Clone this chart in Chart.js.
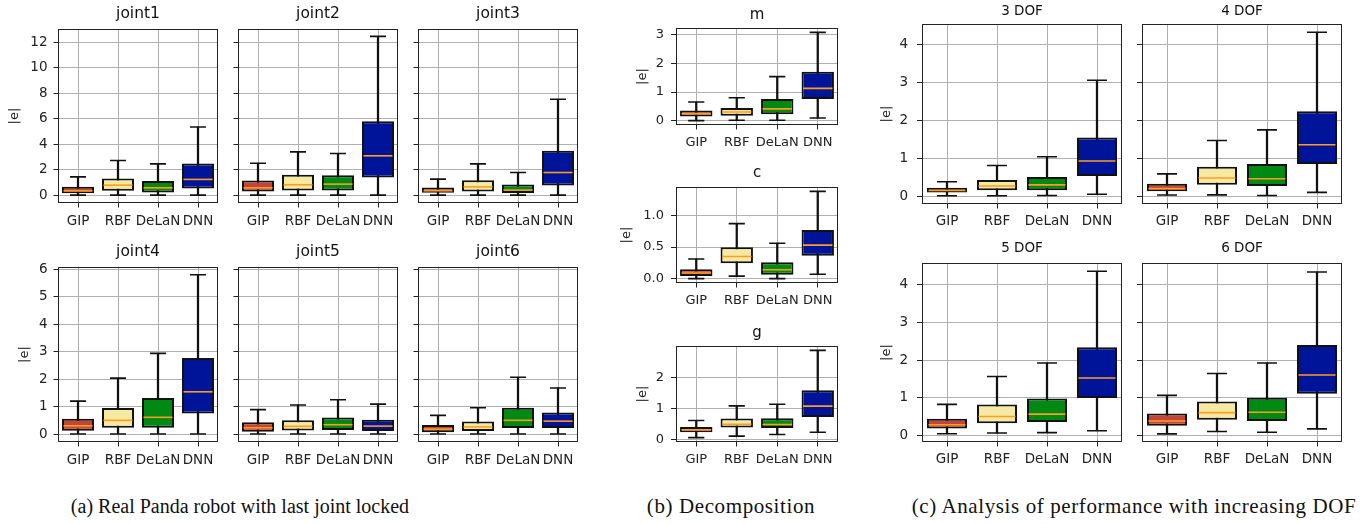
<!DOCTYPE html>
<html><head><meta charset="utf-8">
<script src="https://cdn.jsdelivr.net/npm/chart.js@4.4.1/dist/chart.umd.min.js"></script>
<style>
html,body{margin:0;padding:0;background:#fff;}
body{width:1370px;height:524px;position:relative;overflow:hidden;}
canvas{position:absolute;}
.cap{position:absolute;top:495px;font-family:"Liberation Serif","DejaVu Serif",serif;font-size:20px;color:#111;white-space:nowrap;transform:translateX(-50%);}
.cap.w{font-size:21px;letter-spacing:0.6px;top:494px;}
</style></head><body>
<div class="cap" style="left:240px">(a) Real Panda robot with last joint locked</div>
<div class="cap w" style="left:731px">(b) Decomposition</div>
<div class="cap w" style="left:1134px">(c) Analysis of performance with increasing DOF</div>
<canvas id="j1"></canvas><canvas id="j2"></canvas><canvas id="j3"></canvas>
<canvas id="j4"></canvas><canvas id="j5"></canvas><canvas id="j6"></canvas>
<canvas id="bm"></canvas><canvas id="bc"></canvas><canvas id="bg"></canvas>
<canvas id="d3"></canvas><canvas id="d4"></canvas><canvas id="d5"></canvas><canvas id="d6"></canvas>
<script>
// ---------- data ----------
const categories = ['GIP', 'RBF', 'DeLaN', 'DNN'];
const boxColors = ['#c4443a', '#f6e9a2', '#008a14', '#00149a'];
// each entry: [min, q1, median, q3, max]
const joint1 = [[0,0.15,0.33,0.65,1.43],[0,0.34,0.78,1.30,2.71],[0,0.20,0.57,1.10,2.45],[0,0.52,1.23,2.48,5.34]];
const joint2 = [[0,0.29,0.57,1.15,2.50],[0,0.36,0.81,1.59,3.39],[0,0.36,0.86,1.56,3.26],[0,1.38,3.08,5.79,12.44]];
const joint3 = [[0,0.18,0.34,0.60,1.25],[0,0.29,0.65,1.17,2.45],[0,0.16,0.39,0.83,1.77],[0,0.76,1.77,3.47,7.51]];
const joint4 = [[0,0.12,0.30,0.56,1.20],[0,0.23,0.50,0.95,2.04],[0,0.23,0.61,1.31,2.94],[0,0.75,1.54,2.77,5.81]];
const joint5 = [[0,0.085,0.23,0.43,0.89],[0,0.13,0.28,0.50,1.06],[0,0.15,0.34,0.60,1.25],[0,0.11,0.29,0.52,1.09]];
const joint6 = [[0,0.07,0.18,0.33,0.68],[0,0.11,0.26,0.46,0.96],[0,0.22,0.50,0.96,2.07],[0,0.22,0.47,0.79,1.68]];
const decompM = [[0,0.14,0.24,0.35,0.65],[0.01,0.17,0.30,0.44,0.80],[0.01,0.22,0.41,0.76,1.54],[0.09,0.76,1.13,1.71,3.09]];
const decompC = [[0,0.04,0.09,0.15,0.31],[0.04,0.245,0.35,0.495,0.87],[0,0.06,0.14,0.26,0.56],[0.07,0.36,0.53,0.77,1.38]];
const decompG = [[0.06,0.235,0.31,0.40,0.61],[0.11,0.385,0.49,0.67,1.08],[0.16,0.37,0.48,0.68,1.13],[0.235,0.72,1.07,1.58,2.86]];
const dof3 = [[0.01,0.10,0.15,0.22,0.38],[0.01,0.16,0.27,0.43,0.81],[0.02,0.16,0.30,0.51,1.04],[0.05,0.53,0.93,1.55,3.06]];
const dof4 = [[0.03,0.13,0.20,0.33,0.59],[0.035,0.30,0.48,0.78,1.47],[0.02,0.27,0.46,0.85,1.75],[0.10,0.85,1.36,2.24,4.33]];
const dof5 = [[0.04,0.18,0.28,0.44,0.82],[0.06,0.32,0.50,0.82,1.56],[0.07,0.35,0.56,0.98,1.92],[0.12,0.99,1.52,2.34,4.36]];
const dof6 = [[0.035,0.25,0.38,0.58,1.06],[0.10,0.41,0.60,0.90,1.64],[0.08,0.38,0.61,1.00,1.92],[0.17,1.10,1.60,2.40,4.34]];

// ---------- tick labels ----------
const ticksJointTop = [0,2,4,6,8,10,12];
const ticksJointTopLabels = ['0','2','4','6','8','10','12'];
const ticksJointBottom = [0,1,2,3,4,5,6];
const ticksJointBottomLabels = ['0','1','2','3','4','5','6'];
const ticksM = [0,1,2,3];
const ticksMLabels = ['0','1','2','3'];
const ticksC = [0,0.5,1.0];
const ticksCLabels = ['0.0','0.5','1.0'];
const ticksG = [0,1,2];
const ticksGLabels = ['0','1','2'];
const ticksDof = [0,1,2,3,4];
const ticksDofLabels = ['0','1','2','3','4'];

// ---------- drawing ----------
const FAM = '"DejaVu Sans", sans-serif';
const framePlugin = {
  id: 'frame',
  afterDatasetsDraw(chart) {
    const a = chart.chartArea, ctx = chart.ctx;
    ctx.save();
    ctx.strokeStyle = '#222';
    ctx.lineWidth = 1;
    ctx.strokeRect(Math.round(a.left) + 0.5, Math.round(a.top) + 0.5, Math.round(a.width) - 1, Math.round(a.height) - 1);
    ctx.restore();
  }
};

function boxChart(id, g) {
  const canvas = document.getElementById(id);
  const cTop = g.titleY - 10;
  const cLeft = g.showY ? g.yTitleX - 10 : g.l - 6;
  const xAxisH = 30;
  const cW = (g.r - cLeft) + 3;
  const cH = (g.b - cTop) + xAxisH;
  canvas.width = cW; canvas.height = cH;
  canvas.style.left = cLeft + 'px'; canvas.style.top = cTop + 'px';
  canvas.style.width = cW + 'px'; canvas.style.height = cH + 'px';
  const spacing = (g.r - g.l) / categories.length;
  const titleBlock = g.t - cTop;
  const tPadTop = 10 - g.titleSize * 0.6;
  const tPadBottom = titleBlock - tPadTop - g.titleSize * 1.2;
  const d = g.data;
  const caps = [];
  categories.forEach((c, i) => { caps.push({x: c, y: d[i][0]}); caps.push({x: c, y: d[i][4]}); });

  new Chart(canvas, {
    data: {
      labels: categories,
      datasets: [
        {type: 'line', label: 'median', data: categories.map((c, i) => ({x: c, y: d[i][2]})),
         showLine: false, pointStyle: 'line', pointRadius: spacing * 0.4 - 1.5,
         pointBorderColor: '#ff9d1e', pointBorderWidth: 1.6, order: 0},
        {type: 'bar', label: 'box', data: d.map(v => [v[1], v[3]]),
         backgroundColor: boxColors, borderColor: '#111', borderWidth: 2, borderSkipped: false,
         barPercentage: 0.8, categoryPercentage: 1, grouped: false, order: 1},
        {type: 'line', label: 'caps', data: caps, showLine: false, pointStyle: 'line',
         pointRadius: spacing * 0.2, pointBorderColor: '#111', pointBorderWidth: 1.6, order: 2},
        {type: 'bar', label: 'whisker', data: d.map(v => [v[0], v[4]]),
         backgroundColor: '#111', borderWidth: 0, barThickness: 1.6, grouped: false, order: 3}
      ]
    },
    options: {
      responsive: false, animation: false, devicePixelRatio: 1, events: [],
      layout: {autoPadding: false, padding: {left: 0, right: 3, top: 0, bottom: 0}},
      plugins: {
        legend: {display: false}, tooltip: {enabled: false},
        title: {display: true, text: g.title, color: '#111', fullSize: false,
                font: {family: FAM, size: g.titleSize, weight: 'normal'},
                padding: {top: tPadTop, bottom: tPadBottom}}
      },
      scales: {
        x: {
          type: 'category', offset: true,
          grid: {offset: false, color: '#b0b0b0', lineWidth: 1, drawTicks: true, tickLength: 4.5, tickColor: '#222'},
          border: {display: false},
          ticks: {color: '#222', font: {family: FAM, size: g.tickSize}, padding: g.xPad, maxRotation: 0, autoSkip: false},
          afterFit: s => { s.height = xAxisH; s.paddingLeft = 0; s.paddingRight = 0; s.paddingTop = 0; s.paddingBottom = 0; }
        },
        y: {
          type: 'linear', min: g.yMin, max: g.yMax,
          afterBuildTicks: s => { s.ticks = g.yTicks.map(v => ({value: v})); },
          afterFit: s => { s.width = g.l - cLeft; s.paddingLeft = 0; s.paddingRight = 0; s.paddingTop = 0; s.paddingBottom = 0; },
          grid: {color: '#b0b0b0', lineWidth: 1, drawTicks: true, tickLength: g.tickLen, tickColor: '#222'},
          border: {display: false},
          ticks: {display: g.showY, color: '#222', font: {family: FAM, size: g.tickSize}, padding: g.yPad,
                  callback: (v, i) => g.yTickLabels[i]},
          title: {display: g.showY, text: '|e|', color: '#222', font: {family: FAM, size: 13},
                  padding: {top: 10 - 13 * 0.6, bottom: 0}}
        }
      }
    },
    plugins: [framePlugin]
  });
}

// panel (a)
const aTop = {t: 29, b: 203, titleY: 14, yTitleX: 15, yMin: -0.62, yMax: 13.02, yTicks: ticksJointTop, yTickLabels: ticksJointTopLabels};
const aBot = {t: 267, b: 442, titleY: 252, yTitleX: 25, yMin: -0.29, yMax: 6.09, yTicks: ticksJointBottom, yTickLabels: ticksJointBottomLabels};
const aCols = [{l: 58, r: 218}, {l: 238, r: 398}, {l: 418, r: 578}];
const aCommon = {titleSize: 15.5, tickSize: 13.5, yPad: 6, tickLen: 4.5, xPad: 5.5};
[['j1', joint1, 'joint1'], ['j2', joint2, 'joint2'], ['j3', joint3, 'joint3']].forEach((e, i) =>
  boxChart(e[0], Object.assign({}, aCommon, aTop, aCols[i], {data: e[1], title: e[2], showY: i === 0})));
[['j4', joint4, 'joint4'], ['j5', joint5, 'joint5'], ['j6', joint6, 'joint6']].forEach((e, i) =>
  boxChart(e[0], Object.assign({}, aCommon, aBot, aCols[i], {data: e[1], title: e[2], showY: i === 0})));

// panel (b)
const bCommon = {l: 676, r: 838, titleSize: 15, tickSize: 13, yPad: 7, tickLen: 5, xPad: 5, showY: true};
boxChart('bm', Object.assign({}, bCommon, {t: 28, b: 125, titleY: 15, yTitleX: 643, yMin: -0.155, yMax: 3.245, yTicks: ticksM, yTickLabels: ticksMLabels, data: decompM, title: 'm'}));
boxChart('bc', Object.assign({}, bCommon, {t: 187, b: 283, titleY: 173, yTitleX: 627, yMin: -0.069, yMax: 1.449, yTicks: ticksC, yTickLabels: ticksCLabels, data: decompC, title: 'c'}));
boxChart('bg', Object.assign({}, bCommon, {t: 346, b: 442, titleY: 333, yTitleX: 643, yMin: -0.08, yMax: 3.0, yTicks: ticksG, yTickLabels: ticksGLabels, data: decompG, title: 'g'}));

// panel (c)
const cCommon = {titleSize: 13.5, tickSize: 13.5, yPad: 9, tickLen: 5, xPad: 4.5, yTicks: ticksDof, yTickLabels: ticksDofLabels, yTitleX: 887};
const cTopRow = {t: 24, b: 204, titleY: 11, yMin: -0.206, yMax: 4.546};
const cBotRow = {t: 263, b: 442, titleY: 248, yMin: -0.18, yMax: 4.58};
const cCols = [{l: 922, r: 1122}, {l: 1142, r: 1342}];
boxChart('d3', Object.assign({}, cCommon, cTopRow, cCols[0], {data: dof3, title: '3 DOF', showY: true}));
boxChart('d4', Object.assign({}, cCommon, cTopRow, cCols[1], {data: dof4, title: '4 DOF', showY: false}));
boxChart('d5', Object.assign({}, cCommon, cBotRow, cCols[0], {data: dof5, title: '5 DOF', showY: true}));
boxChart('d6', Object.assign({}, cCommon, cBotRow, cCols[1], {data: dof6, title: '6 DOF', showY: false}));
</script>
</body></html>
